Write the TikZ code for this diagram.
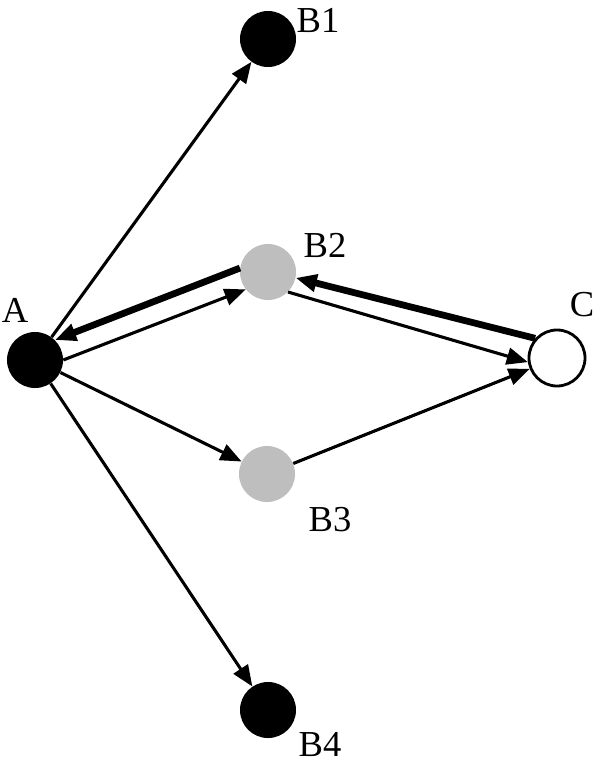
\documentclass[tikz,border=0pt]{standalone}
\usepackage{fontspec}
\setmainfont{Liberation Serif}
\usetikzlibrary{arrows.meta}
\definecolor{nodegray}{RGB}{190,190,190}

\begin{document}
\begin{tikzpicture}%
  [x=0.025cm,y=-0.025cm,>={Triangle[length=15pt,width=12pt]}]
  \tikzstyle{black node}=[circle,fill=black,minimum size=1.4cm,inner sep=0]
  \tikzstyle{gray node}=[circle,fill=nodegray,minimum size=1.4cm,inner sep=0]
  \tikzstyle{white node}=[circle,draw=black,line width=2pt,fill=white,minimum size=1.4cm,inner sep=0]
  \tikzstyle{name label}=[font=\fontsize{26}{30}\selectfont,inner sep=0]
  \tikzstyle{thin edge}=[->,line width=2.2pt]
  \tikzstyle{thick edge}=[->,line width=4.8pt]
  \useasboundingbox (0,0) rectangle (597,764);
  % nodes
  \node(A)[black node] at (35,360){};
  \node(B1)[black node] at (268,39){};
  \node(B2)[gray node] at (268,272){};
  \node(B3)[gray node] at (267,474){};
  \node(B4)[black node] at (268,710){};
  \node(C)[white node] at (557,358){};
  % labels
  \node(lA)[name label] at (15,310){A};
  \node(lB1)[name label] at (318,20){B1};
  \node(lB2)[name label] at (325,245){B2};
  \node(lB3)[name label] at (330,520){B3};
  \node(lB4)[name label] at (320,745){B4};
  \node(lC)[name label] at (582,305){C};
  % edges
  \draw[thin edge] (A) -- (B1);
  \draw[thin edge] (A.0) -- (B2.218);
  \draw[thick edge] (B2.172) -- (A.45);
  \draw[thin edge] (A) -- (B3);
  \draw[thin edge] (A) -- (B4);
  \draw[thin edge] (B2.-45) -- (C.188);
  \draw[thick edge] (C.138) -- (B2.-12);
  \draw[thin edge] (B3) -- (C);
\end{tikzpicture}
\end{document}
